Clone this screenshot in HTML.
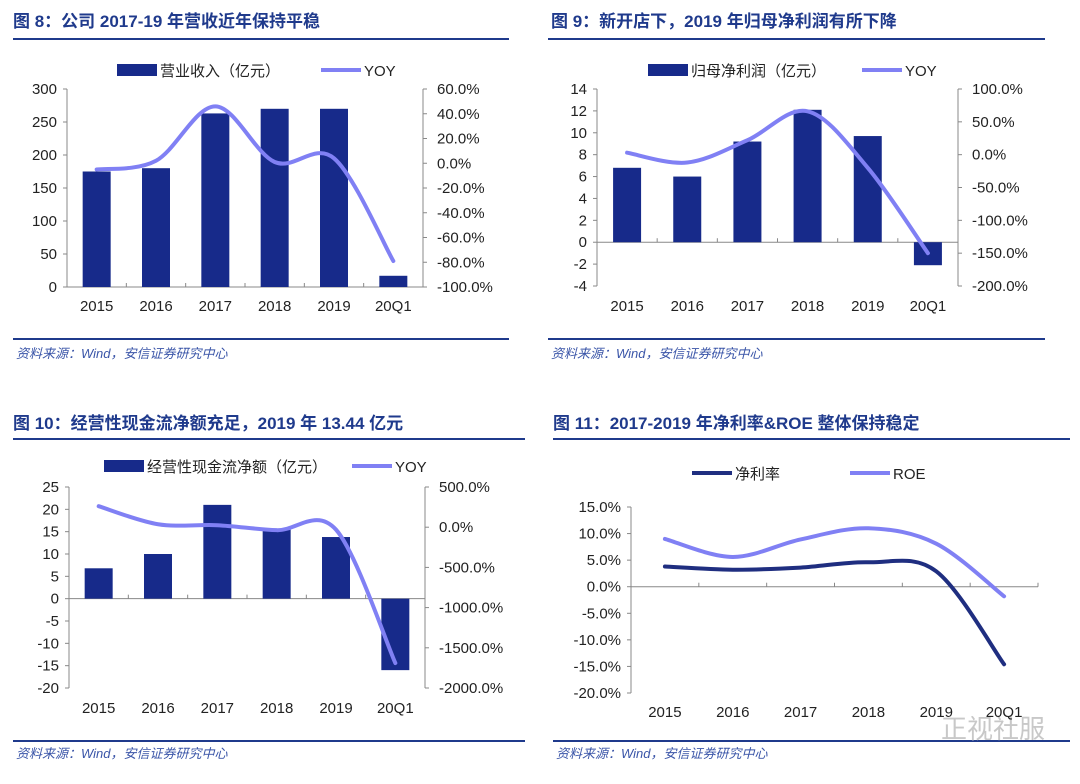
<!DOCTYPE html>
<html><head><meta charset="utf-8">
<style>
body{margin:0;background:#fff;width:1080px;height:779px;overflow:hidden}
svg text{font-family:"Liberation Sans","Noto Sans CJK SC",sans-serif}
</style></head>
<body>
<svg id="svg" width="1080" height="779" viewBox="0 0 1080 779">
<g>
<text x="13" y="27" font-size="17" font-weight="bold" fill="#1f3a8c">图 8：公司 2017-19 年营收近年保持平稳</text>
<rect x="13" y="38" width="496" height="2" fill="#1f3a8c"/>
<rect x="13" y="338" width="496" height="2" fill="#1f3a8c"/>
<text x="16" y="358" font-size="13" font-style="italic" fill="#3a55a8">资料来源：Wind，安信证券研究中心</text>
</g>
<g>
<text x="551" y="27" font-size="17" font-weight="bold" fill="#1f3a8c">图 9：新开店下，2019 年归母净利润有所下降</text>
<rect x="548" y="38" width="497" height="2" fill="#1f3a8c"/>
<rect x="548" y="338" width="497" height="2" fill="#1f3a8c"/>
<text x="551" y="358" font-size="13" font-style="italic" fill="#3a55a8">资料来源：Wind，安信证券研究中心</text>
</g>
<g>
<text x="13" y="429" font-size="17" font-weight="bold" fill="#1f3a8c">图 10：经营性现金流净额充足，2019 年 13.44 亿元</text>
<rect x="13" y="438" width="512" height="2" fill="#1f3a8c"/>
<rect x="13" y="740" width="512" height="2" fill="#1f3a8c"/>
<text x="16" y="758" font-size="13" font-style="italic" fill="#3a55a8">资料来源：Wind，安信证券研究中心</text>
</g>
<g>
<text x="553" y="429" font-size="17" font-weight="bold" fill="#1f3a8c">图 11：2017-2019 年净利率&amp;ROE 整体保持稳定</text>
<rect x="553" y="438" width="517" height="2" fill="#1f3a8c"/>
<rect x="553" y="740" width="517" height="2" fill="#1f3a8c"/>
<text x="556" y="758" font-size="13" font-style="italic" fill="#3a55a8">资料来源：Wind，安信证券研究中心</text>
<text x="1045" y="738" font-size="26" text-anchor="end" fill="#c8c8c8">正视社服</text>
</g>
</svg>
<script>
const categories = ["2015","2016","2017","2018","2019","20Q1"];
const revenue = [175, 180, 263, 270, 270, 17];
const revenueYoy = [-5, 2, 46, 1, 4, -79];
const profit = [6.8, 6.0, 9.2, 12.1, 9.7, -2.1];
const profitYoy = [3, -12, 22, 66, -20, -150];
const cashflow = [6.8, 10, 21, 15.5, 13.8, -16];
const cashflowYoy = [261, 37, 25, -37, -30, -1690];
const netMargin = [3.8, 3.2, 3.6, 4.6, 2.9, -14.6];
const roe = [9.0, 5.6, 8.9, 11.0, 8.1, -1.8];
const ticks8L = [0,50,100,150,200,250,300];
const ticks8R = [-100,-80,-60,-40,-20,0,20,40,60];
const ticks9L = [-4,-2,0,2,4,6,8,10,12,14];
const ticks9R = [-200,-150,-100,-50,0,50,100];
const ticks10L = [-20,-15,-10,-5,0,5,10,15,20,25];
const ticks10R = [-2000,-1500,-1000,-500,0,500];
const ticks11 = [-20,-15,-10,-5,0,5,10,15];

const NS="http://www.w3.org/2000/svg";
const svg=document.getElementById('svg');
const BAR="#172a8a", LINE="#8080f4", DARK="#1f2e80";
function mk(tag,attrs,parent){const e=document.createElementNS(NS,tag);for(const k in attrs)e.setAttribute(k,attrs[k]);(parent||svg).appendChild(e);return e;}
function scale(d0,d1,r0,r1){return v=>r0+(v-d0)*(r1-r0)/(d1-d0);}
function smooth(pts){let d="M"+pts[0][0]+","+pts[0][1];for(let i=0;i<pts.length-1;i++){const p0=pts[Math.max(i-1,0)],p1=pts[i],p2=pts[i+1],p3=pts[Math.min(i+2,pts.length-1)];const c1=[p1[0]+(p2[0]-p0[0])/6,p1[1]+(p2[1]-p0[1])/6],c2=[p2[0]-(p3[0]-p1[0])/6,p2[1]-(p3[1]-p1[1])/6];d+=" C"+c1+" "+c2+" "+p2;}return d;}
function fmtPct(v){return v.toFixed(1)+"%";}

function drawChart(o){
  const g=mk('g',{});
  
  
  const n=categories.length, step=(o.x1-o.x0)/n;
  const cx=i=>o.x0+step*(i+0.5);
  const yL=scale(o.lMin,o.lMax,o.yB,o.yT);
  const y0=yL(0);
  // left axis
  const la=mk('line',{x1:o.x0,y1:o.yT,x2:o.x0,y2:o.yB,stroke:"#888","stroke-width":1},g);
  
  
  o.lTicks.forEach(t=>{const y=yL(t);mk('line',{x1:o.x0-4,y1:y,x2:o.x0,y2:y,stroke:"#888"},g);
    const tx=mk('text',{x:o.x0-10,y:y+5,"font-size":15,"text-anchor":"end",fill:"#222"},g);tx.textContent=o.lFmt?o.lFmt(t):t;
    
    });
  // x axis at zero
  const xa=mk('line',{x1:o.x0,y1:y0,x2:o.x1,y2:y0,stroke:"#888"},g);
  
  
  for(let i=1;i<=n;i++)mk('line',{x1:o.x0+step*i,y1:y0,x2:o.x0+step*i,y2:y0-4,stroke:"#888"},g);
  categories.forEach((c,i)=>{const t=mk('text',{x:cx(i),y:o.labelY,"font-size":15,"text-anchor":"middle",fill:"#222"},g);t.textContent=c;
    
    });
  let yR=null;
  if(o.rTicks){
    yR=scale(o.rMin,o.rMax,o.yB,o.yT);
    const ra=mk('line',{x1:o.x1,y1:o.yT,x2:o.x1,y2:o.yB,stroke:"#888"},g);
    
    
    o.rTicks.forEach(t=>{const y=yR(t);mk('line',{x1:o.x1,y1:y,x2:o.x1+4,y2:y,stroke:"#888"},g);
      const tx=mk('text',{x:o.x1+14,y:y+5,"font-size":15,fill:"#222"},g);tx.textContent=fmtPct(t);
      
      });
  }
  if(o.bars){o.bars.forEach((v,i)=>{const y=yL(v);const r=mk('rect',{x:cx(i)-o.bw/2,y:Math.min(y,y0),width:o.bw,height:Math.abs(y-y0),fill:BAR},g);
    
    });}
  o.lines.forEach(l=>{const sc=l.right?yR:yL;const pts=l.vals.map((v,i)=>[cx(i),sc(v)]);
    const p=mk('path',{d:smooth(pts),fill:"none",stroke:l.color,"stroke-width":4,"stroke-linecap":"round"},g);
    
    });
  // legend
  o.legend.forEach(L=>{
    if(L.type==="bar"){const r=mk('rect',{x:L.x,y:L.y-6,width:40,height:12,fill:BAR},g);
      
      }
    else{const r=mk('line',{x1:L.x,y1:L.y,x2:L.x+40,y2:L.y,stroke:L.color,"stroke-width":4},g);
      
      }
    const t=mk('text',{x:L.x+43,y:L.y+6,"font-size":15,fill:"#222"},g);t.textContent=L.text;
    
    
  });
}

drawChart({name:"fig8-revenue-chart",x0:67,x1:423,yT:89,yB:287,lMin:0,lMax:300,lTicks:ticks8L,rMin:-100,rMax:60,rTicks:ticks8R,
  bars:revenue,bw:28,labelY:311,lines:[{vals:revenueYoy,right:true,color:LINE,name:"revenue-yoy-line"}],
  legend:[{type:"bar",x:117,y:70,text:"营业收入（亿元）"},{type:"line",x:321,y:70,color:LINE,text:"YOY"}]});
drawChart({name:"fig9-profit-chart",x0:597,x1:958,yT:89,yB:286,lMin:-4,lMax:14,lTicks:ticks9L,rMin:-200,rMax:100,rTicks:ticks9R,
  bars:profit,bw:28,labelY:311,lines:[{vals:profitYoy,right:true,color:LINE,name:"profit-yoy-line"}],
  legend:[{type:"bar",x:648,y:70,text:"归母净利润（亿元）"},{type:"line",x:862,y:70,color:LINE,text:"YOY"}]});
drawChart({name:"fig10-cashflow-chart",x0:69,x1:425,yT:487,yB:688,lMin:-20,lMax:25,lTicks:ticks10L,rMin:-2000,rMax:500,rTicks:ticks10R,
  bars:cashflow,bw:28,labelY:713,lines:[{vals:cashflowYoy,right:true,color:LINE,name:"cashflow-yoy-line"}],
  legend:[{type:"bar",x:104,y:466,text:"经营性现金流净额（亿元）"},{type:"line",x:352,y:466,color:LINE,text:"YOY"}]});
drawChart({name:"fig11-margin-roe-chart",x0:631,x1:1038,yT:507,yB:693,lMin:-20,lMax:15,lTicks:ticks11,lFmt:fmtPct,
  labelY:717,lines:[{vals:roe,color:LINE,name:"roe-line"},{vals:netMargin,color:DARK,name:"net-margin-line"}],
  legend:[{type:"line",x:692,y:473,color:DARK,text:"净利率"},{type:"line",x:850,y:473,color:LINE,text:"ROE"}]});
</script>
</body></html>
